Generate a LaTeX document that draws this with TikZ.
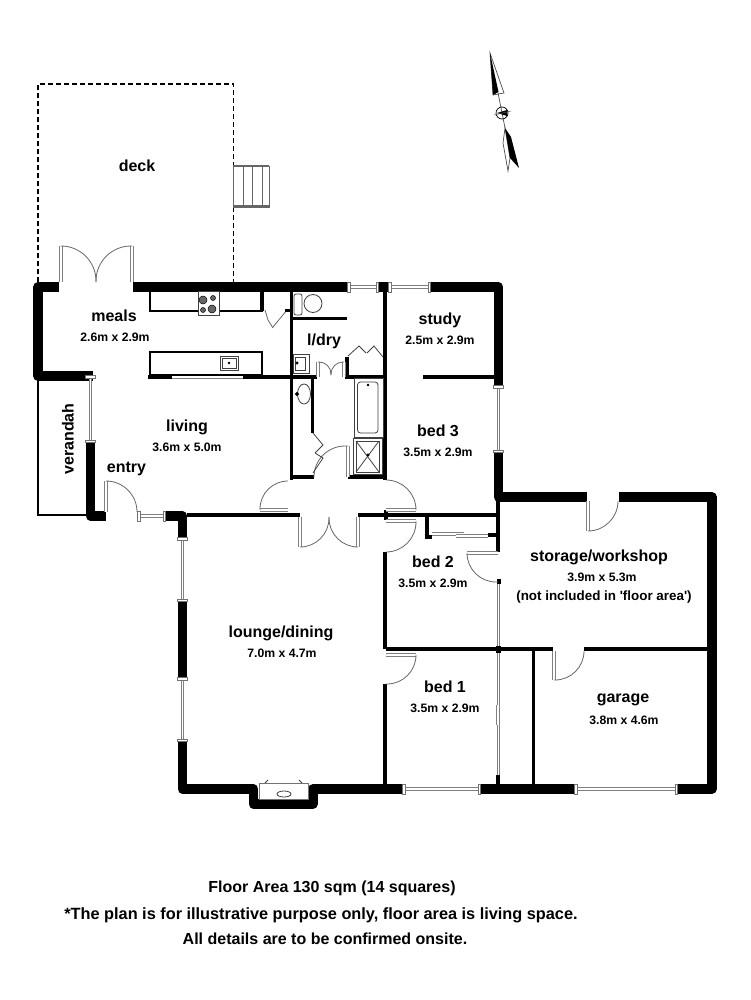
\documentclass[tikz,border=0pt]{standalone}
\usepackage{fontspec}
\setmainfont{Liberation Sans}
\tikzset{
    wall/.style={line width=9.6pt, line join=round},
    partition/.style={line width=3.8pt},
    swing/.style={draw=black!60, line width=0.8pt},
    window/.style={draw=black!50, double=white, line width=0.8pt, double distance=1.9pt},
    capend/.style={draw=black!55, fill=white, line width=0.6pt},
    fixture/.style={draw=black!75, line width=0.8pt},
    bench/.style={draw=black, line width=1.4pt},
    roomname/.style={font=\fontsize{16}{18}\selectfont\bfseries, inner sep=0pt},
    roomsize/.style={font=\fontsize{12.2}{14}\selectfont\bfseries, inner sep=0pt},
    footnote/.style={font=\fontsize{16}{18}\selectfont\bfseries, inner sep=0pt}
}
\newcommand\winh[3]{
    \draw[window] (#1,#3) -- (#2,#3);
    \draw[capend] (#1-2.5,#3-5) rectangle (#1,#3+5);
    \draw[capend] (#2,#3-5) rectangle (#2+2.5,#3+5);
}
\newcommand\winv[3]{
    \draw[window] (#3,#1) -- (#3,#2);
    \draw[capend] (#3-5,#1-2.5) rectangle (#3+5,#1);
    \draw[capend] (#3-5,#2) rectangle (#3+5,#2+2.5);
}
\begin{document}
\begin{tikzpicture}[x=1pt, y=-1pt]
    \useasboundingbox (0,0) rectangle (750,1000);

    \draw[wall] (59,287) -- (38,287) -- (38,376) -- (93,376);
    \draw[wall] (90.5,440) -- (90.5,516) -- (106,516);
    \draw[wall] (163,516) -- (182.5,516) -- (182.5,540);
    \draw[wall] (182.5,599) -- (182.5,680);
    \draw[wall] (182.5,739) -- (182.5,789) -- (253.5,789) -- (253.5,804) -- (313,804) -- (313,789) -- (405,789);
    \draw[wall] (478,789) -- (577,789);
    \draw[wall] (675,789) -- (712,789) -- (712,497) -- (619,497);
    \draw[wall] (587,497) -- (498.5,497) -- (498.5,450);
    \draw[wall] (498.5,388) -- (498.5,287) -- (428,287);
    \draw[wall] (133,287) -- (350,287);
    \draw[wall] (376,287) -- (391,287);

    \draw[partition] (187,515) -- (300,515);
    \draw[partition] (358,515) -- (498,515);
    \draw[partition] (498,497) -- (498,552);
    \draw[partition] (385,552) -- (385,649);
    \draw[partition] (385,684) -- (385,789);
    \draw[partition] (385,287) -- (385,480);
    \draw[partition] (291.5,287) -- (291.5,480);
    \draw[partition] (292,318.5) -- (347,318.5);
    \draw[partition] (148,377) -- (172,377);
    \draw[partition] (243,377) -- (317,377);
    \draw[partition] (345,377) -- (385,377);
    \draw[partition] (423,377) -- (494,377);
    \draw[partition] (312.5,377) -- (312.5,433);
    \draw[partition] (292,477) -- (314,477);
    \draw[partition] (348,477) -- (385,477);
    \draw[partition] (386,649) -- (553,649);
    \draw[partition] (584,649) -- (712,649);
    \draw[partition] (533.5,649) -- (533.5,789);
    \draw[partition] (427,515) -- (427,537) -- (432,537);
    \draw[partition] (488,535) -- (498,535);
    \draw[partition] (498,775) -- (498,786);
    \draw[partition] (347,357) -- (347,377);
    \draw[partition] (262,291) -- (262,311);
    \fill (496.5,579) rectangle (500.5,584);
    \fill (496,646) rectangle (501,653);
    \fill (383.5,510) rectangle (388,520);

    \winv{378}{440}{90.5}
    \winv{540}{599}{182.5}
    \winv{680}{739}{182.5}
    \winv{388}{450}{498.5}
    \draw[window] (498.5,584) -- (498.5,646);
    \draw[window] (498.5,653) -- (498.5,775);
    \draw[window] (498,705) -- (498,725);
    \winh{350}{376}{287}
    \winh{391}{428}{287}
    \winh{405}{478}{789}
    \winh{577}{675}{789}
    \winh{140}{163}{516}
    \draw[window] (172,377) -- (243,377);
    \draw[window] (432,534) -- (464,534);
    \draw[window] (456,536) -- (488,536);

    \draw[window] (61,282) -- (61,246);
    \draw[window] (132,282) -- (132,246);
    \draw[swing, rounded corners=35pt] (61,246) -| (96,282);
    \draw[swing, rounded corners=35pt] (132,246) -| (96,282);
    \draw[window] (106,512) -- (106,481);
    \draw[swing, rounded corners=31pt] (106,481) -| (137,512);
    \draw[window] (300,517) -- (300,547);
    \draw[window] (358,517) -- (358,547);
    \draw[swing, rounded corners=29pt] (300,547) -| (329,517);
    \draw[swing, rounded corners=29pt] (358,547) -| (329,517);
    \draw[window] (260,510) -- (288,510);
    \draw[swing, rounded corners=28pt] (260,510) |- (288,481);
    \draw[window] (386,510) -- (416,510);
    \draw[swing, rounded corners=30pt] (416,510) |- (386,480);
    \draw[window] (386,521) -- (416,521);
    \draw[swing, rounded corners=30pt] (416,521) |- (386,552);
    \draw[window] (386,655) -- (416,655);
    \draw[swing, rounded corners=29pt] (416,655) |- (386,684);
    \draw[window] (498,553) -- (467,553);
    \draw[swing, rounded corners=29pt] (467,553) |- (498,582);
    \draw[window] (588,501) -- (588,531);
    \draw[swing, rounded corners=30pt] (588,531) -| (618,501);
    \draw[window] (554,651) -- (554,680);
    \draw[swing, rounded corners=29pt] (554,680) -| (584,651);
    \draw[window] (348,477) -- (348,446);
    \draw[swing, rounded corners=31pt] (348,446) -| (314,476);
    \draw[window] (318,377) -- (318,362);
    \draw[window] (344,377) -- (344,362);
    \draw[swing, rounded corners=12pt] (318,362) -| (331,375);
    \draw[swing, rounded corners=12pt] (344,362) -| (331,375);
    \draw[swing] (265,310) to (268,320) to (273,328);
    \draw[swing] (273,327) -- (287,310);
    \draw[partition, line width=3pt] (285,310) -- (291,310);

    \draw[fixture] (313,433) -- (323,445) -- (315,453);
    \draw[fixture] (313,473) -- (323,458) -- (315,453);
    \draw[fixture] (348,356) -- (359,346) -- (366,353);
    \draw[fixture] (383,357) -- (374,346) -- (367,353);

    \draw[line width=1.5pt] (38,380) -- (38,515) -- (86,515);
    \draw[line width=1.6pt, dash pattern=on 5pt off 3pt] (38,282) -- (38,84) -- (233.5,84) -- (233.5,166);
    \draw[line width=1.6pt, dash pattern=on 5pt off 3pt] (233.5,207) -- (233.5,282);
    \draw[black!60, line width=0.8pt] (233,166) rectangle (269,207);
    \draw[black!60, line width=2pt] (233,166) -- (269,166);
    \draw[black!60, line width=2pt] (233,206) -- (269,206);
    \foreach \s in {243,252,262} {
        \draw[black!60, line width=0.8pt] (\s,166) -- (\s,207);
    }

    \draw[bench] (150,291) rectangle (262,311);
    \draw[bench] (150,352) rectangle (262,375);
    \draw[fixture, fill=white] (198,291) rectangle (219,315);
    \foreach \a/\b/\c in {203/300/4, 213/298/2.5, 203/310/2.5, 212/309/4} {
        \draw[fill=black!60, line width=0.5pt] (\a,\b) circle (\c);
    }
    \draw[fixture, fill=white] (220,356) rectangle (238,370);
    \draw[fixture] (222,358) rectangle (236,368);
    \draw[fill=black] (229,363) circle (1.2);
    \draw[fixture, rounded corners=2pt] (294,294) rectangle (302,315);
    \draw[fixture, fill=white] (313,303.5) circle (9);
    \draw[fixture] (293,354) rectangle (309,373);
    \draw[fixture] (295,357) rectangle (305,370);
    \draw[fill=black] (297,363) circle (1.3);
    \draw[fixture] (304,394) ellipse (6.5 and 10);
    \draw[fill=black] (297,394) circle (1.8);
    \draw[fixture] (354,378) rectangle (383,437);
    \draw[fixture, rounded corners=3pt] (357.5,382) rectangle (378,433);
    \draw[fill=black] (368,385) circle (1);
    \draw[fixture] (353,438) rectangle (382,474);
    \draw[fixture] (356,441) rectangle (379,472);
    \draw[fixture] (356,441) -- (379,472);
    \draw[fixture] (379,441) -- (356,472);
    \draw[fill=black] (368,455) circle (1.4);

    \draw[capend, line width=0.9pt] (259,783) rectangle (308,799);
    \draw[fixture] (284,794) ellipse (7 and 3);
    \draw[fixture] (265,783) -- (268,780);
    \draw[fixture] (302,783) -- (299,780);

    \draw[black!70, line width=0.7pt, fill=white] (490,53) -- (504,93) -- (493,95) -- cycle;
    \fill (490,53) -- (498.5,92) -- (493,95) -- cycle;
    \draw[black!70, line width=0.7pt] (498,93) -- (505,128);
    \draw[black!70, line width=0.7pt, fill=white] (505,128) -- (503,143) -- (508,171) -- (510,158) -- cycle;
    \fill (505,128) -- (511,137) -- (519,168) -- (510,158) -- cycle;
    \draw[line width=0.7pt] (502,113) circle (6);
    \fill (497,113) -- (507,110) -- (507,116) -- cycle;
    \draw[black!70, line width=0.5pt] (494,115) -- (511,111);

    \node[roomname] (deck) at (137,166) {deck};
    \node[roomname] (meals) at (114,316) {meals};
    \node[roomsize] (mealssize) at (115,337) {2.6m x 2.9m};
    \node[roomname] (living) at (187,427) {living};
    \node[roomsize] (livingsize) at (187,447) {3.6m x 5.0m};
    \node[roomname] (entry) at (126.5,469) {entry};
    \node[roomname, rotate=90] (verandah) at (68,439) {verandah};
    \node[roomname] (ldry) at (324,341) {l/dry};
    \node[roomname] (study) at (440,320) {study};
    \node[roomsize] (studysize) at (440,340) {2.5m x 2.9m};
    \node[roomname] (bedthree) at (438,431) {bed 3};
    \node[roomsize] (bedthreesize) at (438,452) {3.5m x 2.9m};
    \node[roomname] (bedtwo) at (433,562) {bed 2};
    \node[roomsize] (bedtwosize) at (433,583) {3.5m x 2.9m};
    \node[roomname] (storage) at (599,557) {storage/workshop};
    \node[roomsize] (storagesize) at (602,577) {3.9m x 5.3m};
    \node[roomsize, font=\fontsize{13.4}{15}\selectfont\bfseries] (storagenote) at (604,597) {(not included in \textquotesingle floor area\textquotesingle)};
    \node[roomname] (lounge) at (281,633) {lounge/dining};
    \node[roomsize] (loungesize) at (282,653) {7.0m x 4.7m};
    \node[roomname] (bedone) at (445,687) {bed 1};
    \node[roomsize] (bedonesize) at (445,708) {3.5m x 2.9m};
    \node[roomname] (garage) at (623,700) {garage};
    \node[roomsize] (garagesize) at (624,720) {3.8m x 4.6m};
    \node[footnote] (floorarea) at (332,888) {Floor Area 130 sqm (14 squares)};
    \node[footnote, font=\fontsize{16.3}{18}\selectfont\bfseries] (disclaimer) at (321,915) {*The plan is for illustrative purpose only, floor area is living space.};
    \node[footnote] (onsite) at (325,939) {All details are to be confirmed onsite.};
\end{tikzpicture}
\end{document}
